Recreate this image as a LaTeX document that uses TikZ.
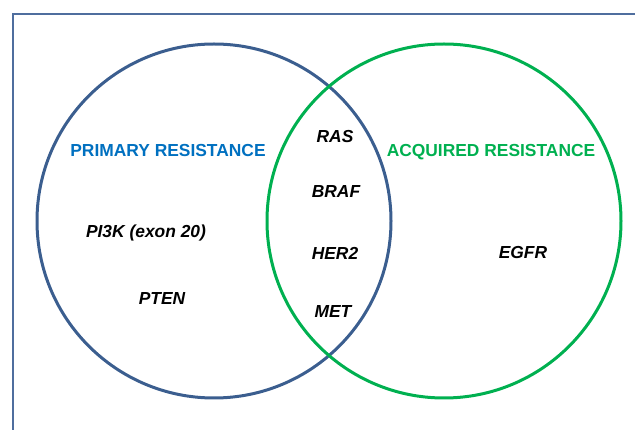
\documentclass[tikz,border=0pt]{standalone}
\usepackage{fontspec}
\setmainfont{Liberation Sans}
\definecolor{cblue}{RGB}{59,94,143}
\definecolor{tblue}{RGB}{0,112,192}
\definecolor{cgreen}{RGB}{0,176,80}
\definecolor{fblue}{RGB}{79,110,158}
\tikzset{
  vcircle/.style={circle, line width=3pt, minimum size=354pt, inner sep=0pt},
  gene/.style={anchor=base, inner sep=0pt, font=\fontsize{17.4}{20}\selectfont\bfseries\itshape, text=black},
  group/.style={anchor=base, inner sep=0pt, font=\fontsize{17.4}{20}\selectfont\bfseries},
  frameline/.style={draw=fblue, line width=1.6pt}
}
\begin{document}
\begin{tikzpicture}[x=1pt,y=-1pt]
\useasboundingbox (0,0) rectangle (635,430);
\coordinate (fb) at (13,431);
\coordinate (fc) at (13,14);
\coordinate (fr) at (636,14);
\draw[frameline] (fb) -- (fc) -- (fr);
\node[vcircle, draw=cblue] (primary) at (214,221) {};
\node[vcircle, draw=cgreen] (acquired) at (444,221) {};
\node[group, text=tblue] (plabel) at (168,157) {PRIMARY RESISTANCE};
\node[group, text=cgreen] (alabel) at (491,157) {ACQUIRED RESISTANCE};
\node[gene] (ras) at (335,143) {RAS};
\node[gene] (braf) at (336,198) {BRAF};
\node[gene] (her2) at (335,260) {HER2};
\node[gene] (met) at (333,318) {MET};
\node[gene] (pi3k) at (146,238) {PI3K (exon 20)};
\node[gene] (pten) at (162,305) {PTEN};
\node[gene] (egfr) at (523,259) {EGFR};
\end{tikzpicture}
\end{document}
